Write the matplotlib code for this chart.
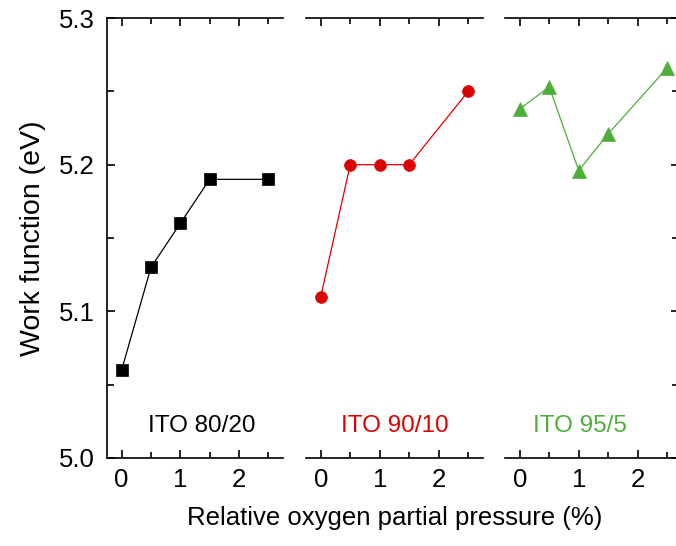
import matplotlib
matplotlib.use("Agg")
import matplotlib.pyplot as plt

plt.rcParams['font.family'] = ['Liberation Sans', 'DejaVu Sans']

# oxygen partial pressure (%)
x_80 = [0, 0.5, 1, 1.5, 2.5]
x_90 = [0, 0.5, 1, 1.5, 2.5]
x_95 = [0, 0.5, 1, 1.5, 2.5]

# work function (eV)
wf_80 = [5.06, 5.13, 5.16, 5.19, 5.19]
wf_90 = [5.11, 5.20, 5.20, 5.20, 5.25]
wf_95 = [5.238, 5.253, 5.196, 5.221, 5.266]

labels = ["ITO 80/20", "ITO 90/10", "ITO 95/5"]
colors = ["black", "#DD0000", "#4DAF3A"]
markers = ["s", "o", "^"]
msizes = [8.5, 8.5, 10]
label_x = [1.37, 1.26, 1.02]

W, H = 676, 546
fig = plt.figure(figsize=(W / 100, H / 100), dpi=100)

# panel positions in pixels (left, right)
panels = [(107, 283, 2.75), (306, 483, 2.75), (505, 679, 2.7)]
y_top, y_bot = 18, 458

series = [(x_80, wf_80), (x_90, wf_90), (x_95, wf_95)]

for i, ((l, r, xmax), (xs, ys)) in enumerate(zip(panels, series)):
    ax = fig.add_axes([l / W, (H - y_bot) / H, (r - l) / W, (y_bot - y_top) / H])
    ax.plot(xs, ys, color=colors[i], lw=0.9, marker=markers[i], ms=msizes[i],
            mec=colors[i], mew=0.5)
    ax.set_xlim(-0.25, xmax)
    ax.set_ylim(5.0, 5.3)
    ax.set_xticks([0, 1, 2])
    ax.set_xticks([0.5, 1.5, 2.5], minor=True)
    ax.set_yticks([5.0, 5.1, 5.2, 5.3])
    ax.set_yticks([5.05, 5.15, 5.25], minor=True)
    ax.tick_params(axis='x', which='both', direction='in', top=True, bottom=True,
                   labelsize=18.5, width=1.2, pad=7)
    ax.tick_params(axis='x', which='major', length=6)
    ax.tick_params(axis='x', which='minor', length=4)
    ax.tick_params(axis='y', which='both', direction='in', width=1.2, labelsize=18.5, pad=9)
    ax.tick_params(axis='y', which='major', length=6)
    ax.tick_params(axis='y', which='minor', length=5)
    for s in ax.spines.values():
        s.set_linewidth(1.2)
    ax.spines['right'].set_visible(False)
    if i == 0:
        ax.set_yticklabels(["5.0", "5.1", "5.2", "5.3"])
        ax.set_ylabel("Work function (eV)", fontsize=20.5, labelpad=9)
    else:
        ax.spines['left'].set_visible(False)
        ax.tick_params(axis='y', which='both', left=False, labelleft=False)
    if i == 2:
        ax.tick_params(axis='y', which='both', right=True, labelright=False)
        ax.spines['right'].set_visible(True)
    ax.text(label_x[i], 5.022, labels[i], color=colors[i], fontsize=17.5,
            ha='center', va='center')
    if i == 1:
        ax.set_xlabel("Relative oxygen partial pressure (%)", fontsize=18.5, labelpad=10)

fig.savefig("out.png", dpi=100)
